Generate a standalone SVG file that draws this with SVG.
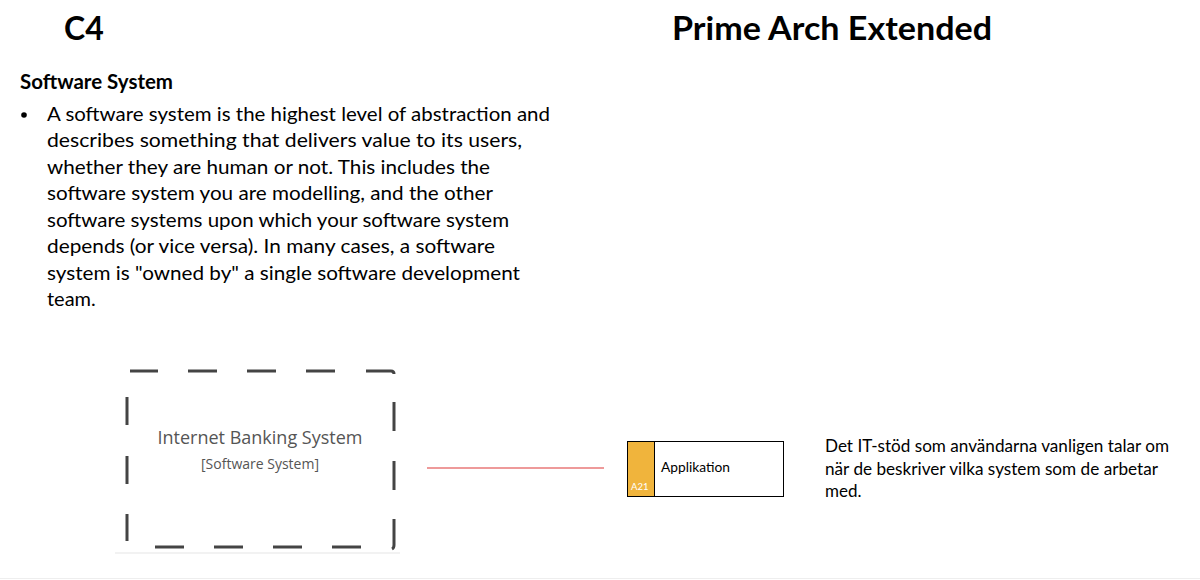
<svg xmlns="http://www.w3.org/2000/svg" width="1200" height="580" viewBox="0 0 1200 580">
<style>
.t{font-family:Lato,"Open Sans","Liberation Sans",sans-serif;fill:#000}
.b{font-weight:bold}
.body{font-size:20px}
.dash{stroke:#444;stroke-width:3;fill:none;stroke-linecap:butt}
.desc{font-size:17px}
</style>
<rect width="1200" height="580" fill="#fff"/>
<text class="t b" x="64" y="40" font-size="32">C4</text>
<text class="t b" x="672" y="40" font-size="32" textLength="320" lengthAdjust="spacingAndGlyphs">Prime Arch Extended</text>
<text class="t b" x="20" y="89" font-size="20" textLength="153" lengthAdjust="spacingAndGlyphs">Software System</text>
<circle cx="24" cy="115" r="2.8" fill="#000"/>
<g class="t body">
<text x="47" y="121" textLength="503" lengthAdjust="spacingAndGlyphs">A software system is the highest level of abstraction and</text>
<text x="47" y="147" textLength="475" lengthAdjust="spacingAndGlyphs">describes something that delivers value to its users,</text>
<text x="47" y="174" textLength="443" lengthAdjust="spacingAndGlyphs">whether they are human or not. This includes the</text>
<text x="47" y="200" textLength="446" lengthAdjust="spacingAndGlyphs">software system you are modelling, and the other</text>
<text x="47" y="227" textLength="462" lengthAdjust="spacingAndGlyphs">software systems upon which your software system</text>
<text x="47" y="253" textLength="448" lengthAdjust="spacingAndGlyphs">depends (or vice versa). In many cases, a software</text>
<text x="47" y="280" textLength="473" lengthAdjust="spacingAndGlyphs">system is "owned by" a single software development</text>
<text x="47" y="306">team.</text>
</g>
<g id="internet-banking-system">
<line x1="115" y1="553" x2="400" y2="553" stroke="#eee" stroke-width="1.5"/>
<path class="dash" d="M130 371H158M188 371H217M247 371H276M306 371H335M366 371H391Q394 371 394 374"/>
<path class="dash" d="M127 397V425M127 456V484M127 514V541"/>
<path class="dash" d="M394 402V431M394 461V490M394 519V545Q394 548 392 549"/>
<path class="dash" d="M155 547H184M214 547H243M273 547H302M332 547H361"/>
<text x="260" y="444" text-anchor="middle" font-family="'Open Sans',sans-serif" font-size="18" fill="#555">Internet Banking System</text>
<text x="260" y="469" text-anchor="middle" font-family="'Open Sans',sans-serif" font-size="14" fill="#555">[Software System]</text>
</g>
<g id="connectors">
<line x1="427" y1="468" x2="604" y2="468" stroke="#e87878" stroke-width="1.3"/>
</g>
<g id="applikation">
<rect x="627.5" y="441.5" width="156" height="55" fill="#fff" stroke="#000" stroke-width="1"/>
<rect x="628" y="442" width="26" height="54" fill="#F0B43C"/>
<line x1="654.5" y1="441.5" x2="654.5" y2="496.5" stroke="#000" stroke-width="1"/>
<text x="631" y="490" font-family="Lato,sans-serif" font-size="9.5" fill="#fff">A21</text>
<text class="t" x="661" y="472" font-size="13" textLength="69" lengthAdjust="spacingAndGlyphs">Applikation</text>
</g>
<g class="t desc">
<text x="825" y="452" textLength="344" lengthAdjust="spacingAndGlyphs">Det IT-stöd som användarna vanligen talar om</text>
<text x="825" y="475" textLength="333" lengthAdjust="spacingAndGlyphs">när de beskriver vilka system som de arbetar</text>
<text x="825" y="497">med.</text>
</g>
<line x1="0" y1="578.5" x2="1200" y2="578.5" stroke="#eee" stroke-width="1"/>
</svg>
